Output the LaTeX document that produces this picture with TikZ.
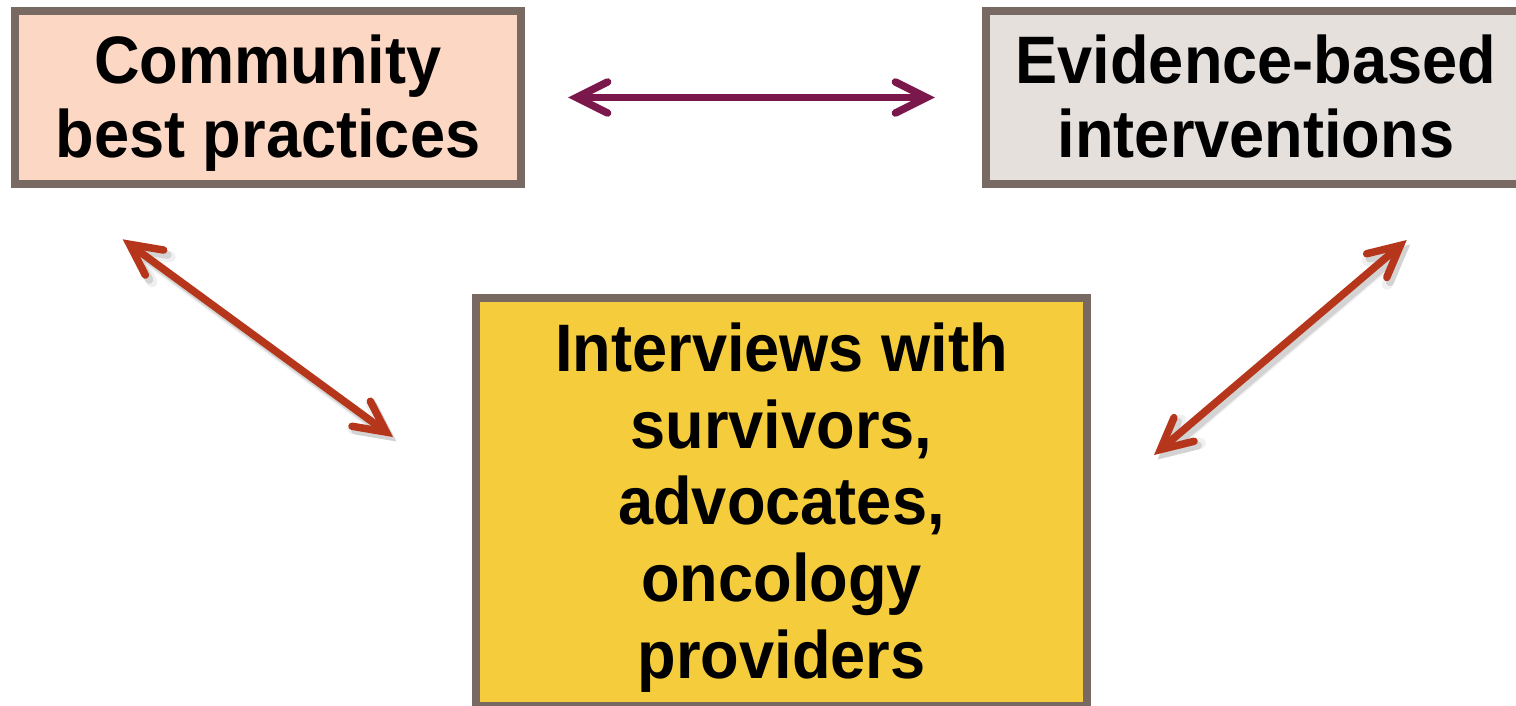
\documentclass[tikz,border=0pt]{standalone}
\usepackage{fontspec}
\setmainfont{Liberation Sans}[FakeStretch=0.94]
\usetikzlibrary{arrows.meta}

\definecolor{boxline}{RGB}{120,106,98}
\definecolor{peach}{RGB}{252,216,196}
\definecolor{stone}{RGB}{229,224,220}
\definecolor{gold}{RGB}{245,205,60}
\definecolor{rust}{RGB}{181,54,26}
\definecolor{plum}{RGB}{122,24,76}

\tikzset{
  panel/.style={draw=boxline, line width=0.08cm, inner sep=0pt, outer sep=0pt},
  paneltext/.style={inner sep=0pt, align=center,
    font=\fontsize{19.1}{21}\selectfont\bfseries},
  bigtext/.style={inner sep=0pt, align=center,
    font=\fontsize{19.1}{21.8}\selectfont\bfseries},
  barbs/.style={>={Straight Barb[length=0.31cm,width=0.31cm,line cap=round,line join=miter]}},
  link/.style={barbs, <->, line width=0.075cm},
  linkshade/.style={barbs, <->, black},
}

\begin{document}
\begin{tikzpicture}[x=0.01cm, y=-0.01cm]
  \useasboundingbox (0,0) rectangle (1516,705);

  % the three boxes
  \node[panel, fill=peach, minimum width=5.06cm, minimum height=1.73cm] (cbp) at (268,97.5) {};
  \node[panel, fill=stone, minimum width=5.40cm, minimum height=1.73cm] (ebi) at (1256,97.5) {};
  \node[panel, fill=gold, minimum width=6.11cm, minimum height=4.08cm] (iwp) at (781.5,502) {};

  % box labels
  \node[paneltext] (cbp-t) at ([yshift=-0.06cm]cbp.center) {Community\\best practices};
  \node[paneltext] (ebi-t) at ([yshift=0.01cm]ebi.center) {Evidence-based\\interventions};
  \node[bigtext] (iwp-t) at ([yshift=-0.055cm]iwp.center)
    {Interviews with\\survivors,\\advocates,\\oncology\\providers};

  % ends of the diagonal links
  \coordinate (lt) at (122.7,239.3);
  \coordinate (lb) at (393,437);
  \coordinate (rt) at (1406.7,240);
  \coordinate (rb) at (1154,455);

  % soft shadows under the diagonal links
  \foreach \w/\o in {0.11/0.06, 0.08/0.12} {
    \begin{scope}[transform canvas={shift={(0.035cm,-0.045cm)}}, transparency group, opacity=\o]
      \draw[linkshade, line width=\w cm] (lt) -- (lb);
      \draw[linkshade, line width=\w cm] (rt) -- (rb);
    \end{scope}
  }

  % links
  \draw[link, plum, shorten <=0.47cm, shorten >=0.51cm] (cbp.east) -- (ebi.west);
  \draw[link, rust] (lt) -- (lb);
  \draw[link, rust] (rt) -- (rb);
\end{tikzpicture}
\end{document}
